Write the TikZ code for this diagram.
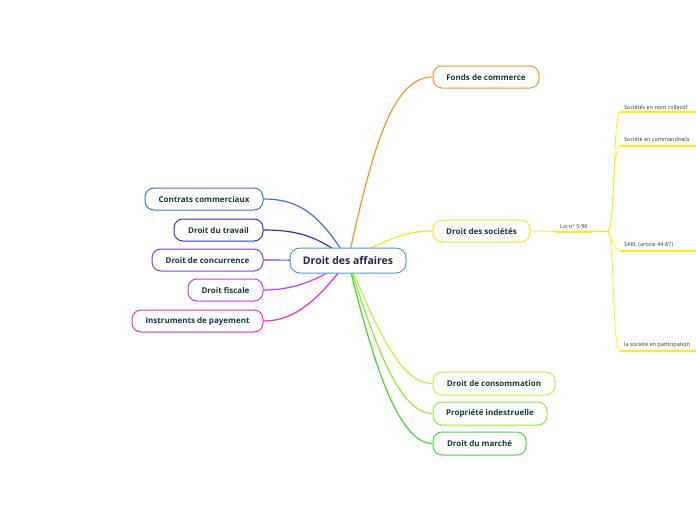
\documentclass[tikz,border=0pt]{standalone}
\usepackage{fontspec}
\setmainfont{Open Sans}
\usetikzlibrary{backgrounds}
\definecolor{txt}{HTML}{173838}
\definecolor{ctxt}{HTML}{1A2A48}
\definecolor{cblue}{HTML}{4A9BDB}
\definecolor{corange}{HTML}{F7961E}
\definecolor{cyellow}{HTML}{F8EA1A}
\definecolor{uyellow}{HTML}{FFEE00}
\definecolor{cyg}{HTML}{C8F03C}
\definecolor{clg}{HTML}{90EC38}
\definecolor{cg}{HTML}{3CDC30}
\definecolor{cb1}{HTML}{3A6CF6}
\definecolor{cb2}{HTML}{3A2AD8}
\definecolor{cp1}{HTML}{8A3AE6}
\definecolor{cp2}{HTML}{CC3AEC}
\definecolor{cp3}{HTML}{EE2AC4}
\definecolor{subtxt}{HTML}{333333}
\begin{document}
\begin{tikzpicture}[x=1pt,y=-1pt,
  topic/.style={draw, rounded corners=9pt, line width=1pt, fill=white,
    minimum height=22pt, inner xsep=0pt, inner ysep=0pt,
    font=\fontsize{8}{10}\selectfont\bfseries, text=txt},
  central/.style={draw=cblue, rounded corners=10pt, line width=1pt, fill=white,
    minimum height=25pt, minimum width=116pt, inner sep=0pt,
    font=\fontsize{10.5}{12}\selectfont\bfseries, text=ctxt},
  branch/.style={line width=1.2pt},
  subtext/.style={font=\fontsize{5.5}{7}\selectfont, text=subtxt, inner xsep=4pt, inner ysep=2.5pt},
  uline/.style={draw=uyellow, line width=2pt},
  subline/.style={draw=uyellow, line width=0.7pt}
]
\useasboundingbox (0,0) rectangle (696,520);

\node[central] (c) at (348,260.5) {Droit des affaires};

\node[topic, draw=corange, minimum width=106pt] (fc) at (486,77) {Fonds de commerce};
\node[topic, draw=cyellow, minimum width=97pt] (ds) at (481.5,231) {Droit des sociétés};
\node[topic, draw=cyg, minimum width=122pt, minimum height=23pt] (dc) at (494,383.5) {Droit de consommation};
\node[topic, draw=clg, minimum width=114pt, minimum height=23pt] (pi) at (490,413.5) {Propriété indestruelle};
\node[topic, draw=cg, minimum width=93pt, minimum height=23pt] (dm) at (479.5,443.5) {Droit du  marché};

\node[topic, draw=cb1, minimum width=118pt] (cc) at (204,199) {Contrats commerciaux};
\node[topic, draw=cb2, minimum width=89pt] (dt) at (218.5,230) {Droit du travail};
\node[topic, draw=cp1, minimum width=111pt] (dco) at (207.5,260) {Droit de concurrence};
\node[topic, draw=cp2, minimum width=75pt] (df) at (225.5,290) {Droit fiscale};
\node[topic, draw=cp3, minimum width=131pt] (ip) at (197.5,321) {Instruments de payement};

% sub topic
\node[subtext, anchor=south west] (loi) at (556,231.5) {Loi n° 5-96};
\coordinate (j) at (608,231.5);
\node[subtext, anchor=south west] (s1) at (620,112) {Sociétés en nom collectif};
\node[subtext, anchor=south west] (s2) at (620,145.5) {Société en commandite(a};
\node[subtext, anchor=south west] (s3) at (620,250.5) {SARL (article 44-87)};
\node[subtext, anchor=south west] (s4) at (620,350.5) {la société en participation};

\path[uline] (loi.south west) -- (loi.south east);
\path[uline] (s1.south west) -- ++(80,0);
\path[uline] (s2.south west) -- ++(80,0);
\path[uline] (s3.south west) -- ++(80,0);
\path[uline] (s4.south west) -- ++(80,0);

\begin{pgfonlayer}{background}
\draw[branch, corange] (c.center) .. controls (372,150) and (392,77) .. (fc.west);
\draw[branch, cyellow] (c.center) .. controls (385,240) and (405,231) .. (ds.west);
\draw[branch, cyg] (c.center) .. controls (378,330) and (400,383.5) .. (dc.west);
\draw[branch, clg] (c.center) .. controls (374,340) and (398,413.5) .. (pi.west);
\draw[branch, cg] (c.center) .. controls (370,350) and (396,443.5) .. (dm.west);

\draw[branch, cb1] (c.center) .. controls (318,210) and (295,199) .. (cc.east);
\draw[branch, cb2] (c.center) .. controls (318,235) and (295,230) .. (dt.east);
\draw[branch, cp1] (c.center) -- (dco.east);
\draw[branch, cp2] (c.center) .. controls (318,280) and (295,290) .. (df.east);
\draw[branch, cp3] (c.center) .. controls (318,300) and (295,321) .. (ip.east);

\path[subline] (ds.east) -- (loi.south west);
\path[subline] (loi.south east) -- (j);
\path[subline] (j) .. controls (616,222) and (613,112) .. (s1.south west);
\path[subline] (j) .. controls (615,222) and (612,145.5) .. (s2.south west);
\path[subline] (j) .. controls (612,236) and (613,250.5) .. (s3.south west);
\path[subline] (j) .. controls (615,242) and (612,350.5) .. (s4.south west);
\end{pgfonlayer}
\end{tikzpicture}
\end{document}
